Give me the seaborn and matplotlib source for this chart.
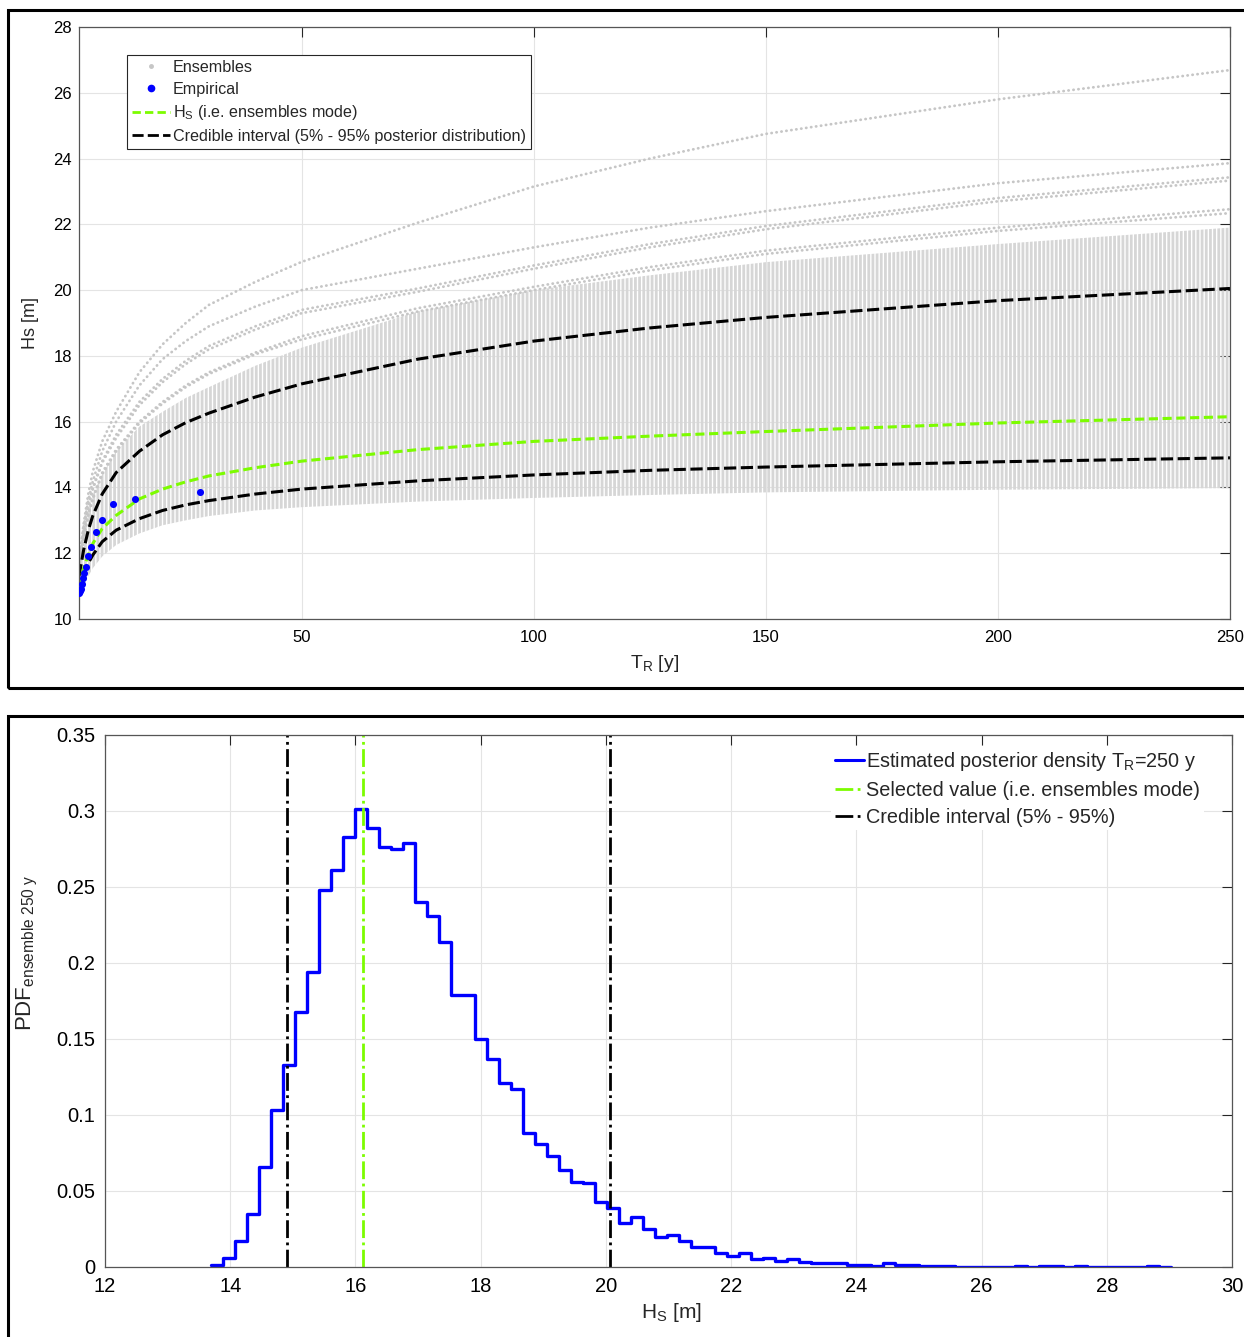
import numpy as np
import pandas as pd
import matplotlib
matplotlib.use("Agg")
import matplotlib.pyplot as plt
import seaborn as sns
from matplotlib.lines import Line2D
from matplotlib.patches import Rectangle
from matplotlib.ticker import FuncFormatter

T_nodes = [2, 3, 4, 5, 7, 10, 15, 20, 25, 30, 40, 50, 75, 100, 125, 150, 200, 250]

# mode and 5% / 95% credible bounds of the ensembles
hs_mode = [10.95, 11.55, 11.95, 12.3, 12.75, 13.15, 13.65, 13.95, 14.17, 14.35, 14.6, 14.8, 15.15, 15.4, 15.56, 15.7, 15.96, 16.15]
hs_q05 = [10.8, 11.35, 11.7, 11.95, 12.35, 12.7, 13.05, 13.3, 13.47, 13.6, 13.8, 13.95, 14.2, 14.38, 14.52, 14.62, 14.78, 14.9]
hs_q95 = [11.3, 12.1, 12.7, 13.15, 13.8, 14.45, 15.1, 15.6, 15.97, 16.26, 16.75, 17.15, 17.9, 18.45, 18.85, 19.17, 19.68, 20.05]

# dense part of the ensemble cloud
ens_low = [10.6, 11.0, 11.3, 11.55, 11.9, 12.25, 12.6, 12.85, 13.0, 13.13, 13.3, 13.4, 13.57, 13.68, 13.77, 13.85, 13.93, 13.98]
ens_high = [11.6, 12.6, 13.3, 13.8, 14.4, 15.1, 15.85, 16.3, 16.72, 17.05, 17.7, 18.25, 19.35, 20.0, 20.45, 20.85, 21.4, 21.9]

# single ensemble members above the cloud
ens_out_1 = [11.7, 12.9, 13.8, 14.5, 15.4, 16.3, 17.5, 18.35, 19.0, 19.55, 20.25, 20.86, 22.05, 23.15, 24.0, 24.75, 25.8, 26.69]
ens_out_2 = [11.6, 12.8, 13.6, 14.2, 15.1, 16.0, 17.1, 17.9, 18.45, 18.9, 19.5, 20.0, 20.65, 21.3, 21.9, 22.4, 23.25, 23.86]
ens_out_3 = [11.55, 12.7, 13.45, 14.0, 14.8, 15.6, 16.6, 17.3, 17.85, 18.3, 18.9, 19.4, 20.05, 20.75, 21.4, 21.95, 22.8, 23.43]
ens_out_4 = [11.55, 12.65, 13.4, 13.95, 14.75, 15.5, 16.5, 17.2, 17.75, 18.2, 18.8, 19.3, 19.95, 20.65, 21.3, 21.85, 22.7, 23.33]
ens_out_5 = [11.5, 12.5, 13.2, 13.7, 14.45, 15.15, 16.0, 16.6, 17.1, 17.5, 18.1, 18.6, 19.45, 20.1, 20.7, 21.2, 21.9, 22.46]
ens_out_6 = [11.5, 12.45, 13.15, 13.65, 14.4, 15.1, 15.95, 16.55, 17.05, 17.45, 18.05, 18.5, 19.35, 20.0, 20.6, 21.1, 21.8, 22.34]

# empirical return levels
emp_T = [2.0, 2.15, 2.33, 2.55, 2.8, 3.11, 3.5, 4.0, 4.67, 5.6, 7.0, 9.33, 14.0, 28.0]
emp_Hs = [10.8, 10.84, 10.9, 11.05, 11.24, 11.4, 11.59, 11.92, 12.2, 12.65, 13.0, 13.5, 13.65, 13.85]

# posterior density of Hs for T_R = 250 y (80 bins)
hist_lo, hist_hi = 13.69, 29.02
pdf_250 = [0.001, 0.006, 0.017, 0.035, 0.066, 0.103, 0.133, 0.168, 0.194, 0.248,
           0.261, 0.283, 0.301, 0.289, 0.276, 0.275, 0.279, 0.240, 0.231, 0.214,
           0.179, 0.179, 0.150, 0.137, 0.121, 0.117, 0.088, 0.081, 0.073, 0.064,
           0.056, 0.055, 0.043, 0.039, 0.029, 0.033, 0.025, 0.020, 0.021, 0.017,
           0.013, 0.013, 0.009, 0.0075, 0.009, 0.005, 0.006, 0.004, 0.0055, 0.0033,
           0.0024, 0.0024, 0.0024, 0.0015, 0.0015, 0.0007, 0.0026, 0.0013, 0.0013, 0.0009,
           0.0009, 0.0009, 0.0003, 0.0003, 0.0003, 0.0003, 0.0003, 0.0007, 0.0003, 0.0007,
           0.0007, 0.0003, 0.0007, 0.0003, 0.0003, 0.0003, 0.0003, 0.0003, 0.0007, 0.0003]
sel_value = 16.12
ci_low = 14.90
ci_high = 20.06

GREEN = "#7CFC00"
GRAY = "#c6c6c6"
INK = "#262626"

sns.set_theme(style="whitegrid")
plt.rcParams["font.family"] = ["Liberation Sans", "DejaVu Sans"]
plt.rcParams["mathtext.fontset"] = "custom"
plt.rcParams["mathtext.rm"] = "Liberation Sans"
plt.rcParams["mathtext.it"] = "Liberation Sans:italic"
plt.rcParams["hatch.linewidth"] = 2.0
plt.rcParams["hatch.color"] = "#d6d6d6"

W, H = 1244, 1337
fig = plt.figure(figsize=(W / 100, H / 100), dpi=100)
ax1 = fig.add_axes([79 / W, 1 - 619 / H, 1151 / W, 592 / H])
ax2 = fig.add_axes([105 / W, 1 - 1267 / H, 1127 / W, 532 / H])

# ---- top: return level curves ----
ax1.fill_between(T_nodes, ens_low, ens_high, facecolor="none", edgecolor="#d6d6d6",
                 hatch="||||", linewidth=0)
for curve in [ens_out_1, ens_out_2, ens_out_3, ens_out_4, ens_out_5, ens_out_6]:
    sns.lineplot(x=T_nodes, y=curve, color=GRAY, lw=2.0, linestyle=(0, (0.1, 1.7)),
                 dash_capstyle="round", ax=ax1)
sns.lineplot(x=T_nodes, y=hs_q95, color="black", lw=2.2, linestyle=(0, (4, 1.5)), ax=ax1)
sns.lineplot(x=T_nodes, y=hs_q05, color="black", lw=2.2, linestyle=(0, (4, 1.5)), ax=ax1)
sns.lineplot(x=T_nodes, y=hs_mode, color=GREEN, lw=2.2, linestyle=(0, (3, 1.5)), ax=ax1)
sns.scatterplot(x=emp_T, y=emp_Hs, color="blue", s=26, linewidth=0, zorder=5, ax=ax1)

ax1.set_xlim(2, 250)
ax1.set_ylim(10, 28)
ax1.set_xticks([50, 100, 150, 200, 250])
ax1.set_yticks(range(10, 29, 2))
ax1.set_xlabel(r"T$_{\rm R}$ [y]", fontsize=14)
ax1.set_ylabel("Hs [m]", fontsize=13)
ax1.xaxis.set_label_coords(0.5, -0.058)
ax1.yaxis.set_label_coords(-0.035, 0.5)

leg1_handles = [
    Line2D([], [], ls="none", marker="o", ms=2.5, color=GRAY),
    Line2D([], [], ls="none", marker="o", ms=4.5, color="blue"),
    Line2D([], [], color=GREEN, lw=2, linestyle=(0, (3, 1.5))),
    Line2D([], [], color="black", lw=2, linestyle=(0, (4, 1.5))),
]
leg1_labels = ["Ensembles", "Empirical", r"H$_{\rm S}$ (i.e. ensembles mode)",
               "Credible interval (5% - 95% posterior distribution)"]
lg1 = ax1.legend(leg1_handles, leg1_labels, loc="upper left", bbox_to_anchor=(0.0417, 0.9527),
                 borderaxespad=0, frameon=True, fancybox=False, framealpha=1, edgecolor=INK,
                 fontsize=11.6, handlelength=2.4, handletextpad=0.15, borderpad=0.3,
                 labelspacing=0.42)
lg1.get_frame().set_linewidth(0.8)

# ---- bottom: posterior density at 250 y ----
n_bins = len(pdf_250)
bin_w = (hist_hi - hist_lo) / n_bins
pdf_df = pd.DataFrame({"hs": [hist_lo + (i + 0.5) * bin_w for i in range(n_bins)],
                       "pdf": pdf_250})
sns.histplot(data=pdf_df, x="hs", weights="pdf", bins=n_bins, binrange=(hist_lo, hist_hi),
             element="step", fill=False, color="blue", lw=2.4, ax=ax2)
ax2.axvline(ci_low, color="black", lw=2, linestyle="-.")
ax2.axvline(sel_value, color=GREEN, lw=2, linestyle="-.")
ax2.axvline(ci_high, color="black", lw=2, linestyle="-.")

ax2.set_xlim(12, 30)
ax2.set_ylim(0, 0.35)
ax2.set_xticks(range(12, 31, 2))
ax2.set_yticks(np.arange(0, 0.36, 0.05))
ax2.yaxis.set_major_formatter(FuncFormatter(lambda v, p: f"{v:g}"))
ax2.set_xlabel(r"H$_{\rm S}$ [m]", fontsize=15)
ax2.set_ylabel(r"PDF$_{\rm ensemble\ 250\ y}$", fontsize=16)
ax2.xaxis.set_label_coords(0.503, -0.064)
ax2.yaxis.set_label_coords(-0.058, 0.59)

leg2_handles = [
    Line2D([], [], color="blue", lw=2.2),
    Line2D([], [], color=GREEN, lw=2, linestyle="-."),
    Line2D([], [], color="black", lw=2, linestyle="-."),
]
leg2_labels = [r"Estimated posterior density T$_{\rm R}$=250 y",
               "Selected value (i.e. ensembles mode)", "Credible interval (5% - 95%)"]
lg2 = ax2.legend(leg2_handles, leg2_labels, loc="upper right", bbox_to_anchor=(0.975, 0.98),
                 borderaxespad=0, frameon=True, framealpha=1, edgecolor="none",
                 fontsize=14.3, handlelength=1.45, handletextpad=0.1, borderpad=0.2,
                 labelspacing=0.4)

# MATLAB-like axes
for ax, fs, pad in [(ax1, 12, 8), (ax2, 14.5, 7)]:
    ax.grid(True, color="#e4e4e4", lw=0.8)
    ax.set_axisbelow(True)
    ax.tick_params(direction="in", top=True, right=True, length=7, width=0.8,
                   colors=INK, labelsize=fs, labelcolor="black", pad=pad)
    for s in ax.spines.values():
        s.set_color("#555555")
        s.set_linewidth(0.9)
ax1.tick_params(axis="y", pad=5)

# frames around the two panels
fig.add_artist(Rectangle((8 / W, 1 - 688 / H), 1300 / W, 678 / H, transform=fig.transFigure,
                         fill=False, ec="black", lw=2.2))
fig.add_artist(Rectangle((8 / W, -0.05), 1300 / W, 1 - 716 / H + 0.05, transform=fig.transFigure,
                         fill=False, ec="black", lw=2.2))

fig.savefig("out.png", dpi=100)
